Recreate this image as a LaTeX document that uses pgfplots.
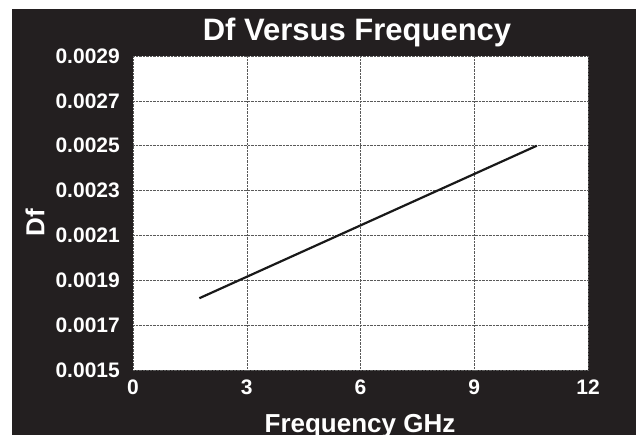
\documentclass[border=0pt]{standalone}
\usepackage{pgfplots}
\pgfplotsset{compat=1.18}
\usepackage{fontspec}
\setmainfont{Liberation Sans}
\definecolor{bg}{HTML}{231F20}
\begin{document}
\begin{tikzpicture}[x=1pt,y=1pt]
\fill[white] (0,0) rectangle (644,435);
\fill[bg] (12,0) rectangle (636,426);
\begin{axis}[
  at={(133pt,65pt)}, anchor=south west,
  scale only axis, width=455pt, height=314pt,
  xmin=0, xmax=12, ymin=0.0015, ymax=0.0029,
  xtick={0,3,6,9,12},
  ytick={0.0015,0.0017,0.0019,0.0021,0.0023,0.0025,0.0027,0.0029},
  yticklabels={0.0015,0.0017,0.0019,0.0021,0.0023,0.0025,0.0027,0.0029},
  scaled y ticks=false,
  axis background/.style={fill=white},
  axis line style={draw=none},
  major tick length=0pt,
  grid=major,
  major grid style={densely dotted, gray!70!black, line width=0.5pt},
  /pgf/number format/assume math mode=true,
  ticklabel style={font=\fontsize{21}{21}\selectfont\bfseries, text=white, inner sep=0pt},
  xticklabel style={anchor=north, yshift=-10pt},
  yticklabel style={anchor=east, xshift=-13pt},
  clip=false,
]
\addplot[black!90, line width=2.2pt] coordinates {(1.75,0.00182) (10.65,0.00250)};
\end{axis}
\node[text=white, font=\fontsize{31}{31}\selectfont\bfseries] at (357,403) {Df Versus Frequency};
\node[text=white, font=\fontsize{26}{26}\selectfont\bfseries] at (360,9) {Frequency GHz};
\node[text=white, font=\fontsize{26}{26}\selectfont\bfseries, rotate=90] at (35,212) {Df};
\end{tikzpicture}
\end{document}
